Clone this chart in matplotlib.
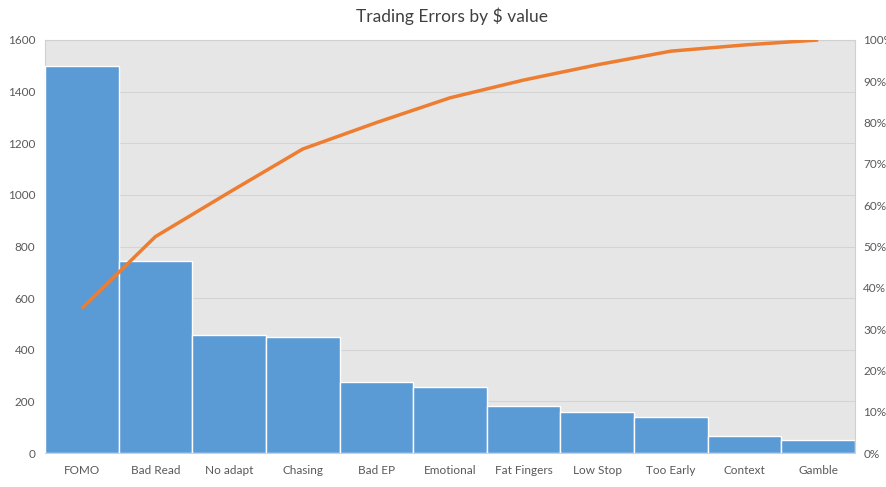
import matplotlib
matplotlib.use("Agg")
import matplotlib.pyplot as plt
from matplotlib.ticker import FuncFormatter

categories = ["FOMO", "Bad Read", "No adapt", "Chasing", "Bad EP", "Emotional",
              "Fat Fingers", "Low Stop", "Too Early", "Context", "Gamble"]
values = [1500, 745, 458, 450, 276, 257, 184, 160, 140, 66, 50]
cumulative_pct = [35.0, 52.4, 63.1, 73.6, 80.0, 86.0, 90.3, 94.0, 97.3, 98.8, 100.0]
left_ticks = [0, 200, 400, 600, 800, 1000, 1200, 1400, 1600]
right_ticks = [0, 10, 20, 30, 40, 50, 60, 70, 80, 90, 100]

plt.rcParams['font.family'] = ['Lato', 'DejaVu Sans']

fig = plt.figure(figsize=(8.87, 4.87), dpi=100)
ax = fig.add_axes([45/887, 34/487, 810/887, 413/487])
ax.set_facecolor("#E7E6E6")
x = list(range(len(categories)))
ax.bar(x, values, width=1.0, color="#5B9BD5", edgecolor="white", linewidth=1.0, zorder=3)
ax.set_xlim(-0.5, len(categories) - 0.5)
ax.set_ylim(0, 1600)
ax.set_yticks(left_ticks)
ax.set_xticks(x)
ax.set_xticklabels(categories)
ax.grid(axis="y", color="#D4D4D4", linewidth=0.8, zorder=0)
ax.tick_params(axis="x", length=0, labelsize=8.5, colors="#595959", pad=9)
ax.tick_params(axis="y", length=0, labelsize=8.5, colors="#595959", pad=7)
for s in ax.spines.values():
    s.set_color("#D0D0D0")
    s.set_linewidth(0.8)

ax2 = ax.twinx()
ax2.plot(x, cumulative_pct, color="#ED7D31", linewidth=2.5, zorder=4, solid_capstyle="butt")
ax2.set_ylim(0, 100)
ax2.set_yticks(right_ticks)
ax2.yaxis.set_major_formatter(FuncFormatter(lambda v, p: f"{int(v)}%"))
ax2.tick_params(length=0, labelsize=8.5, colors="#595959", pad=6)
for s in ax2.spines.values():
    s.set_visible(False)

fig.text(452/887, 1 - 16/487, "Trading Errors by \\$ value", ha="center", va="center",
         fontsize=12.5, color="#404040")

fig.savefig("out.png", dpi=100)
